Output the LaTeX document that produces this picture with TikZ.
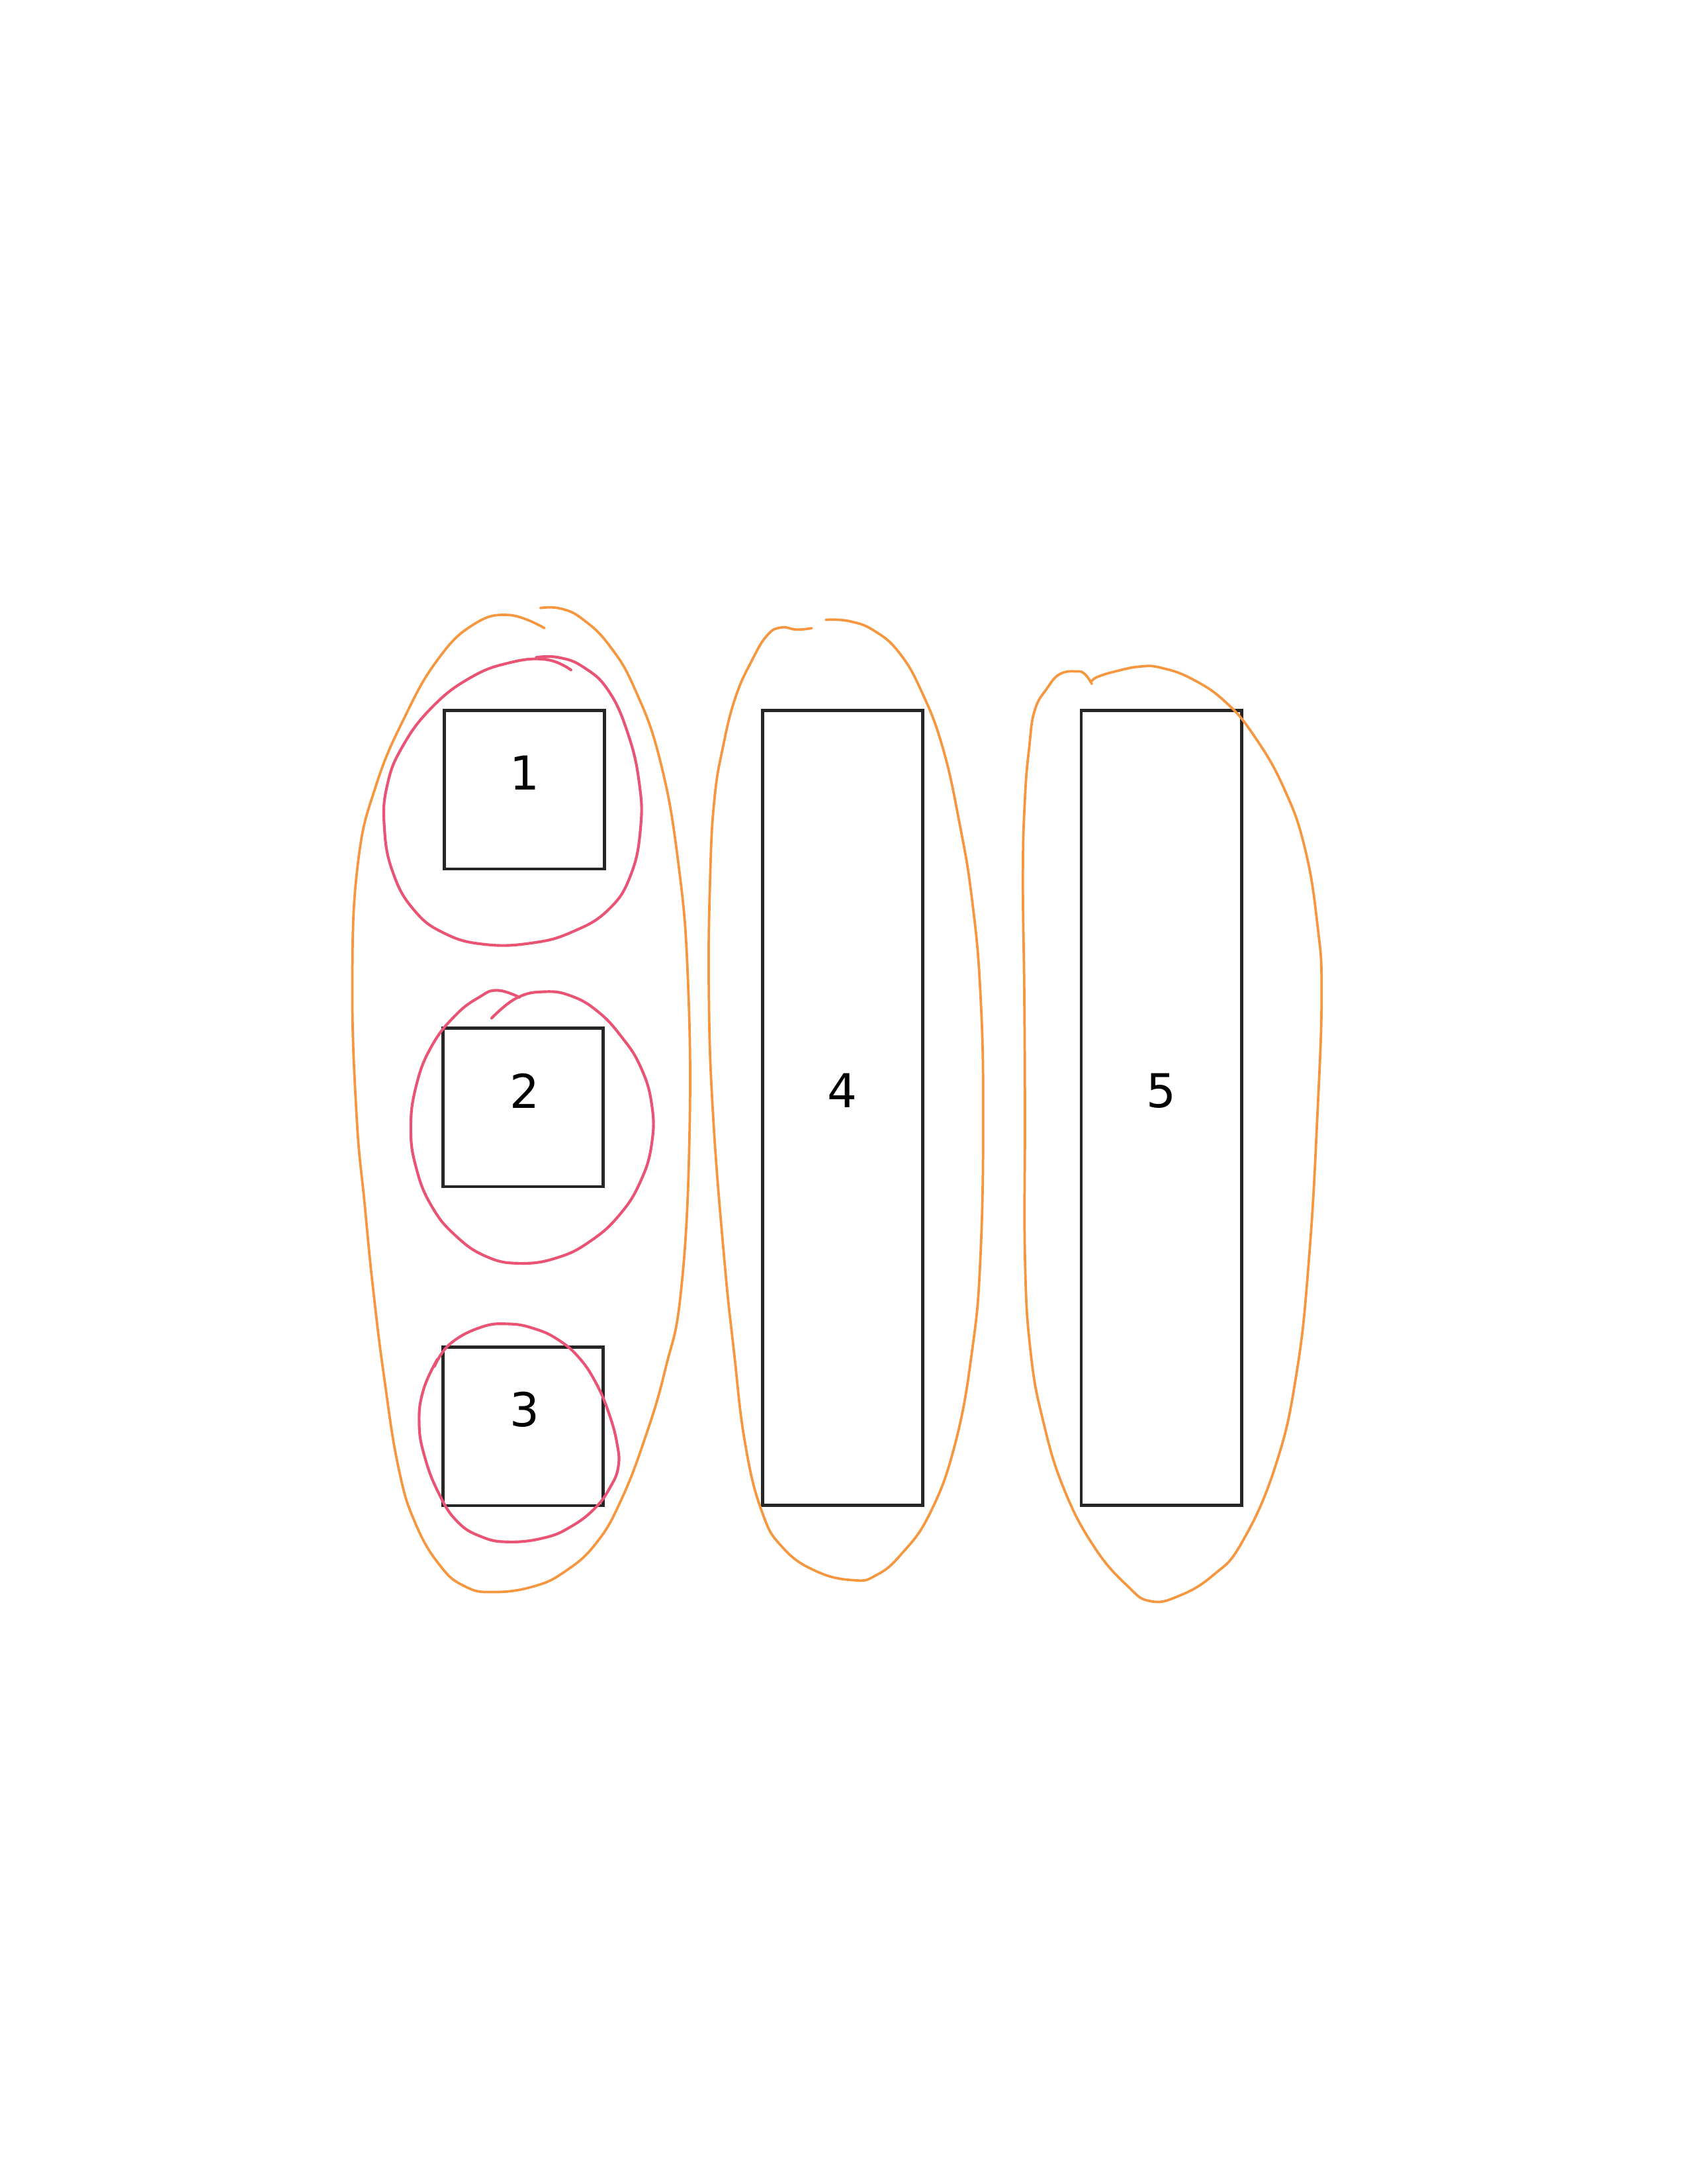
\documentclass[tikz,border=0pt]{standalone}
\usepackage{fontspec}
\setmainfont{DejaVu Sans}
\definecolor{markerorange}{RGB}{246,150,62}
\definecolor{markerred}{RGB}{234,84,116}

\begin{document}
\begin{tikzpicture}[x=0.017819cm, y=-0.017819cm,
    part/.style={draw=black!85, line width=1.1pt, inner sep=0pt, outer sep=0pt,
      minimum width=2.05cm, minimum height=2.03cm},
    tallpart/.style={part, minimum height=10.17cm},
    num/.style={inner sep=0pt, font=\fontsize{17}{20}\selectfont},
    group/.style={draw=markerorange, line width=0.9pt, line cap=round},
    subgroup/.style={draw=markerred, line width=1pt, line cap=round}]
  \useasboundingbox (0,0) rectangle (1212,1568);

  % the five parts
  \node[part] (b1) at (376.5,567) {};
  \node[part] (b2) at (375.5,795) {};
  \node[part] (b3) at (375.5,1024) {};
  \node[tallpart] (b4) at (605,795.5) {};
  \node[tallpart] (b5) at (834,795.5) {};
  \node[num] (n1) at (377,555) {1};
  \node[num] (n2) at (377,783) {2};
  \node[num] (n3) at (377,1012) {3};
  \node[num] (n4) at (605,783) {4};
  \node[num] (n5) at (834,783) {5};

  % red rings round 1, 2 and 3
  \draw[subgroup] plot[smooth, tension=0.75] coordinates {(410,481) (392,473.5)
    (365,476) (337,487) (310,508) (289,536) (278,564) (276,594) (282,626)
    (297,653) (319,670) (348,678) (382,677) (411,669) (437,653) (453,628)
    (460,594) (459,562) (451,527) (437,496) (419,479) (401,472) (385,472)};
  \draw[subgroup] plot[smooth, tension=0.75] coordinates {(353,731) (371,716.5)
    (391,712) (410,715) (429,726) (446,744) (460,766) (468,793) (468,821)
    (460,848) (445,872) (424,891) (400,903) (373,907) (349,902) (327,887)
    (310,866) (299,839) (295,810) (299,779) (310,751) (327,729) (344,716)
    (357,711) (373,716)};
  \draw[subgroup] plot[smooth, tension=0.75] coordinates {(312,981) (323,965)
    (345,953) (365,950.5) (384,954) (401,962) (416,975) (428,993) (437,1014)
    (443,1036) (444,1053) (438,1068) (427,1083) (410,1096) (391,1104)
    (365,1107) (345,1103) (328,1092) (315,1072) (305,1046) (301,1022)
    (304,998) (314,976)};

  % orange loops
  \draw[group] plot[smooth, tension=0.75] coordinates {(391,451) (365,441.5)
    (339,449) (314,474) (291,514) (270,564) (257,620) (253,704) (256,800)
    (262,866) (268,926) (276,990) (286,1053) (298,1093) (316,1124) (334,1139)
    (354,1143) (383,1139) (406,1128) (428,1108) (446,1077) (464,1030)
    (478,982) (489,927) (495,820) (494,704) (487,619) (474,546) (456,495)
    (438,464) (419,445) (403,437) (388,436.5)};
  \draw[group] plot[smooth, tension=0.75] coordinates {(583,451) (572,452)
    (561,450.5) (551,456) (540,474) (528,501) (519,537) (513,574) (510,628)
    (509,713) (512,800) (520,903) (527,970) (535,1036) (547,1085) (562,1111)
    (586,1128) (613,1134.5) (629,1131) (647,1116) (668,1086) (686,1036)
    (698,970) (704,903) (706,800) (704,713) (698,646) (689,591) (677,537)
    (662,497) (646,469) (628,453) (610,446) (593,445)};
  \draw[group] plot[smooth, tension=0.75] coordinates {(784,491) (779,484)
    (773,482) (761,484) (752,494) (743,510) (739,537) (736,573) (734.5,628)
    (735.5,713) (736,800) (736,903) (740,970) (749,1020) (764,1069) (786,1111)
    (810,1139) (826,1149.5) (846,1146) (871,1131) (892,1107) (916,1052)
    (931,986) (940,903) (946,800) (949,713) (946,664) (937,609) (922,566)
    (901,529) (880,504) (856,487.5) (834,479.5) (819,478.5) (801,482)
    (788,486) (784,489)};
\end{tikzpicture}
\end{document}
